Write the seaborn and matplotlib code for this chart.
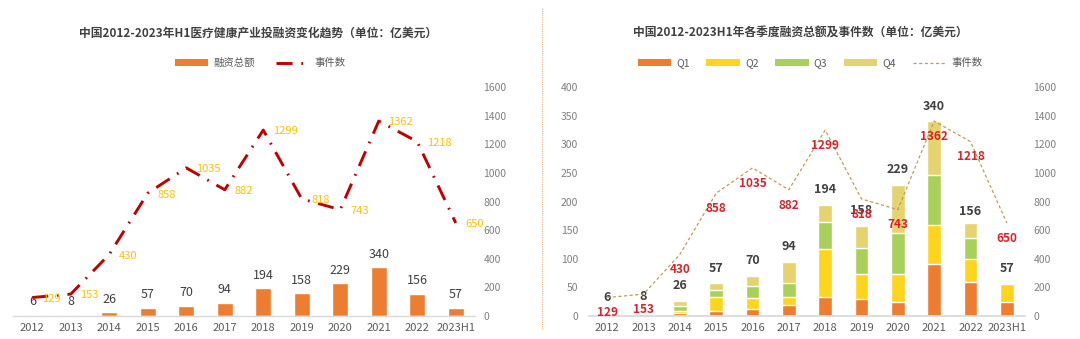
import numpy as np
import pandas as pd
import matplotlib
matplotlib.use("Agg")
import matplotlib.pyplot as plt
from matplotlib.patches import Patch
from matplotlib.lines import Line2D
import seaborn as sns

sns.set_theme(style="white")
plt.rcParams['font.family'] = ['Noto Sans CJK SC', 'DejaVu Sans']

# ---------------- data ----------------
years = ["2012", "2013", "2014", "2015", "2016", "2017", "2018", "2019",
         "2020", "2021", "2022", "2023H1"]
total_amount = [6, 8, 26, 57, 70, 94, 194, 158, 229, 340, 156, 57]
event_count = [129, 153, 430, 858, 1035, 882, 1299, 818, 743, 1362, 1218, 650]
q1 = [2, 3, 5, 9, 12, 20, 33, 30, 25, 90, 59, 25]
q2 = [1, 2, 4, 24, 20, 14, 84, 43, 48, 69, 40, 31]
q3 = [2, 2, 9, 12, 21, 23, 48, 46, 72, 88, 37, 0]
q4 = [1, 1, 8, 12, 17, 37, 29, 39, 84, 93, 27, 0]

title_left = "中国2012-2023年H1医疗健康产业投融资变化趋势（单位：亿美元）"
title_right = "中国2012-2023H1年各季度融资总额及事件数（单位：亿美元）"
legend_left = ["融资总额", "事件数"]
legend_right = ["Q1", "Q2", "Q3", "Q4", "事件数"]

# ---------------- styles ----------------
ORANGE = "#ED7D31"
YELLOW = "#FFD41C"
GREEN = "#A9D05B"
KHAKI = "#E4D36E"
DARKRED = "#C00000"
LINE_TAN = "#C49A5A"
LABEL_GOLD = "#FFC000"
LABEL_RED = "#D9232A"
TXT = "#404040"
TICK = "#595959"
TICK_LIGHT = "#7F7F7F"
DASHDOT = (0, (5.5, 3, 0.6, 3))

W, H = 1080, 339
fig = plt.figure(figsize=(W / 100, H / 100), dpi=100)

def fx(px):
    return px / W

def fy(py):
    return (H - py) / H

n = len(years)
pos = np.arange(n)

# ================= left chart =================
axL = fig.add_axes([fx(13), fy(316), fx(475 - 13), (316 - 87) / H])
dfL = pd.DataFrame({"year": years, "amount": total_amount, "pos": pos})
sns.barplot(data=dfL, x="year", y="amount", color=ORANGE, width=0.41,
            saturation=1, ax=axL)
axL.set_ylim(0, 1600)
axL.set_xlim(-0.5, n - 0.5)
axL.set_yticks([])
axL.set_xlabel("")
axL.set_ylabel("")
for s in ["top", "right", "left"]:
    axL.spines[s].set_visible(False)
axL.spines["bottom"].set_color("#D9D9D9")
axL.spines["bottom"].set_linewidth(1)
axL.tick_params(axis="x", length=0, pad=5, labelsize=8, labelcolor=TICK)
for i, v in enumerate(total_amount):
    axL.annotate(str(v), (i, v), xytext=(0, 9.5), textcoords="offset points",
                 ha="center", va="center", fontsize=9, color=TXT)

axL2 = axL.twinx()
dfLine = pd.DataFrame({"pos": pos, "events": event_count})
sns.lineplot(data=dfLine, x="pos", y="events", ax=axL2, color=DARKRED,
             linewidth=2.1, linestyle=DASHDOT)
axL2.set_ylim(0, 1600)
axL2.set_xlim(-0.5, n - 0.5)
axL2.set_yticks(np.arange(0, 1601, 200))
axL2.tick_params(axis="y", length=0, pad=6, labelsize=7.5, labelcolor=TICK_LIGHT)
axL2.set_xlabel("")
axL2.set_ylabel("")
for s in ["top", "right", "left", "bottom"]:
    axL2.spines[s].set_visible(False)
for i, v in enumerate(event_count):
    axL2.annotate(str(v), (i, v), xytext=(7, -1), textcoords="offset points",
                  ha="left", va="center", fontsize=8, fontweight="medium",
                  color=LABEL_GOLD)

fig.text(fx(258), fy(33), title_left, ha="center", va="center",
         fontsize=8.5, fontweight="bold", color=TXT)
handlesL = [Patch(facecolor=ORANGE, edgecolor="none"),
            Line2D([], [], color=DARKRED, linewidth=2.1, linestyle=DASHDOT)]
fig.legend(handlesL, legend_left, loc="center", bbox_to_anchor=(fx(260), fy(63)),
           ncol=2, frameon=False, fontsize=7.5, labelcolor=TICK,
           handlelength=3.2, handleheight=0.6, columnspacing=2.0,
           handletextpad=0.5)

# ================= divider =================
fig.add_artist(Line2D([fx(542), fx(542)], [fy(8), fy(330)],
                      color="#F4B183", linewidth=0.8, linestyle=(0, (1, 1)),
                      transform=fig.transFigure))

# ================= right chart =================
axR = fig.add_axes([fx(589), fy(316), fx(1025 - 589), (316 - 87) / H])
qs = [q1, q2, q3, q4]
qcolors = [ORANGE, YELLOW, GREEN, KHAKI]
cum = np.cumsum(np.array(qs), axis=0)
dfR = pd.DataFrame({"year": years})
for k in range(3, -1, -1):
    dfR["cum"] = cum[k]
    sns.barplot(data=dfR, x="year", y="cum", color=qcolors[k], width=0.38,
                saturation=1, ax=axR)
axR.set_ylim(0, 400)
axR.set_xlim(-0.5, n - 0.5)
axR.set_yticks(np.arange(0, 401, 50))
axR.set_xlabel("")
axR.set_ylabel("")
for s in ["top", "right", "left"]:
    axR.spines[s].set_visible(False)
axR.spines["bottom"].set_color("#D9D9D9")
axR.tick_params(axis="x", length=0, pad=5, labelsize=8, labelcolor=TICK)
axR.tick_params(axis="y", length=0, pad=8, labelsize=7.5, labelcolor=TICK_LIGHT)
for i, v in enumerate(total_amount):
    axR.annotate(str(v), (i, v), xytext=(0, 11), textcoords="offset points",
                 ha="center", va="center", fontsize=9, fontweight="bold",
                 color=TXT)

axR2 = axR.twinx()
sns.lineplot(data=dfLine, x="pos", y="events", ax=axR2, color=LINE_TAN,
             linewidth=0.9, linestyle=(0, (2.5, 2)))
axR2.set_ylim(0, 1600)
axR2.set_xlim(-0.5, n - 0.5)
axR2.set_yticks(np.arange(0, 1601, 200))
axR2.tick_params(axis="y", length=0, pad=6, labelsize=7.5, labelcolor=TICK_LIGHT)
axR2.set_xlabel("")
axR2.set_ylabel("")
for s in ["top", "right", "left", "bottom"]:
    axR2.spines[s].set_visible(False)
for i, v in enumerate(event_count):
    axR2.annotate(str(v), (i, v), xytext=(0, -11), textcoords="offset points",
                  ha="center", va="center", fontsize=8.5, fontweight="bold",
                  color=LABEL_RED)

fig.text(fx(800), fy(33), title_right, ha="center", va="center",
         fontsize=8.5, fontweight="bold", color=TXT)
handlesR = [Patch(facecolor=c, edgecolor="none") for c in qcolors] + \
           [Line2D([], [], color=LINE_TAN, linewidth=0.9, linestyle=(0, (2.5, 2)))]
fig.legend(handlesR, legend_right, loc="center", bbox_to_anchor=(fx(810), fy(63)),
           ncol=5, frameon=False, fontsize=7.5, labelcolor=TICK,
           handlelength=3.2, handleheight=0.6, columnspacing=1.6,
           handletextpad=0.5)

fig.savefig("out.png", dpi=100)
